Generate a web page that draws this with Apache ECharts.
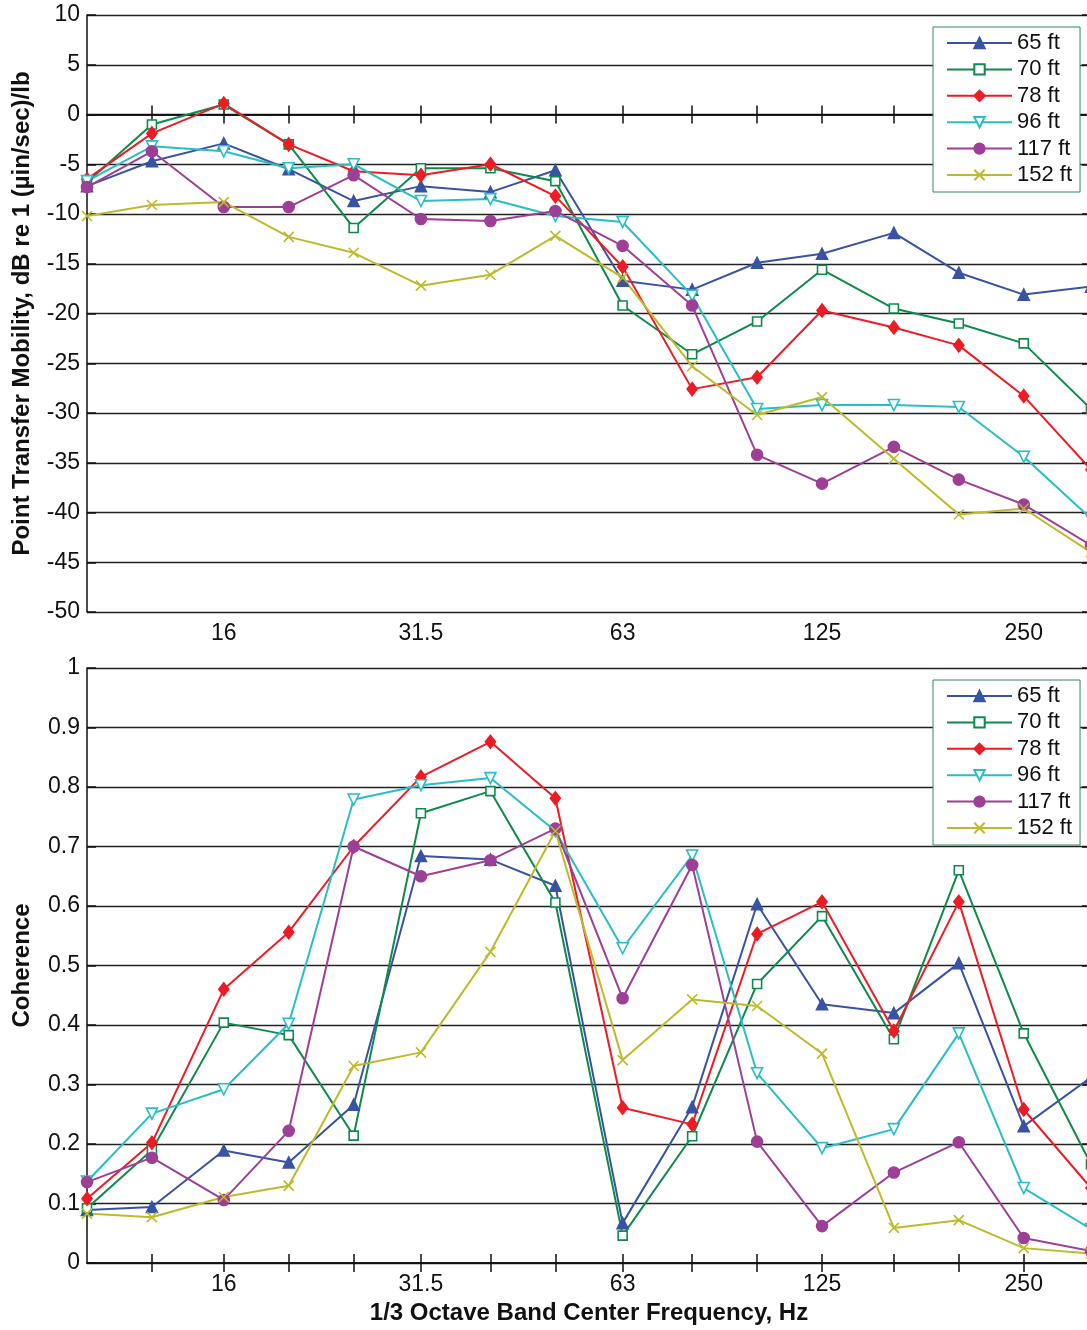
<!DOCTYPE html>
<html>
<head>
<meta charset="utf-8">
<title>Point transfer mobility and coherence</title>
<script src="https://cdn.jsdelivr.net/npm/echarts@6/dist/echarts.min.js"></script>
<style>
  html, body { margin: 0; padding: 0; background: #fff; }
  #chart { width: 1087px; height: 1330px; }
</style>
</head>
<body>
<div id="chart"></div>
<script>
// 1/3 octave band centres, Hz
const freqs = [10, 12.5, 16, 20, 25, 31.5, 40, 50, 63, 80, 100, 125, 160, 200, 250, 315]
const tickFreqs = [12.5, 16, 20, 25, 31.5, 40, 50, 63, 80, 100, 125, 160, 200, 250]
const labelFreqs = [16, 31.5, 63, 125, 250]
const names = ['65 ft', '70 ft', '78 ft', '96 ft', '117 ft', '152 ft']

// point transfer mobility, dB re 1 (µin/sec)/lb
const mob65 = [-7.2, -4.7, -2.9, -5.5, -8.7, -7.2, -7.8, -5.6, -16.7, -17.6, -14.9, -14.0, -11.9, -15.9, -18.1, -17.3]
const mob70 = [-6.8, -1.0, 1.0, -3.0, -11.4, -5.4, -5.4, -6.7, -19.2, -24.1, -20.8, -15.6, -19.5, -21.0, -23.0, -29.6]
const mob78 = [-6.5, -1.9, 1.1, -3.0, -5.7, -6.1, -5.0, -8.2, -15.3, -27.6, -26.4, -19.7, -21.4, -23.2, -28.3, -35.7]
const mob96 = [-6.7, -3.2, -3.7, -5.4, -5.0, -8.7, -8.5, -10.2, -10.8, -18.2, -29.6, -29.2, -29.2, -29.4, -34.4, -40.6]
const mob117 = [-7.3, -3.7, -9.3, -9.3, -6.1, -10.5, -10.7, -9.7, -13.2, -19.2, -34.2, -37.1, -33.4, -36.7, -39.2, -43.3]
const mob152 = [-10.2, -9.1, -8.8, -12.3, -13.9, -17.2, -16.1, -12.2, -16.4, -25.3, -30.2, -28.4, -34.6, -40.2, -39.6, -44.0]

// coherence
const coh65 = [0.089, 0.094, 0.189, 0.169, 0.266, 0.684, 0.678, 0.634, 0.067, 0.262, 0.603, 0.435, 0.420, 0.504, 0.230, 0.312]
const coh70 = [0.092, 0.190, 0.404, 0.383, 0.214, 0.756, 0.793, 0.606, 0.046, 0.213, 0.469, 0.583, 0.376, 0.660, 0.386, 0.166]
const coh78 = [0.108, 0.202, 0.460, 0.556, 0.700, 0.817, 0.876, 0.781, 0.261, 0.233, 0.553, 0.607, 0.390, 0.607, 0.258, 0.126]
const coh96 = [0.137, 0.251, 0.292, 0.402, 0.779, 0.803, 0.815, 0.726, 0.529, 0.685, 0.319, 0.193, 0.225, 0.386, 0.126, 0.057]
const coh117 = [0.136, 0.177, 0.106, 0.222, 0.700, 0.650, 0.677, 0.730, 0.445, 0.669, 0.204, 0.062, 0.152, 0.203, 0.042, 0.020]
const coh152 = [0.083, 0.077, 0.111, 0.130, 0.331, 0.354, 0.523, 0.726, 0.341, 0.443, 0.432, 0.352, 0.059, 0.072, 0.025, 0.016]

const FONT = 'Liberation Sans, Arial, Helvetica, sans-serif'
const FS = 23      // tick labels
const FS_NAME = 24 // axis titles
const FS_LEG = 22  // legend

// marker style per series
const xPath = 'path://M0,0L10,10M10,0L0,10'
const styles = [
  { color: '#3953a4', symbol: 'triangle', size: 11, fill: '#3953a4' },
  { color: '#0e8a4c', symbol: 'rect', size: 9, fill: '#fff' },
  { color: '#ed1c24', symbol: 'diamond', size: [10, 13], fill: '#ed1c24' },
  { color: '#26bfc3', symbol: 'triangle', size: 11, fill: '#fff', rotate: 180 },
  { color: '#9e3f97', symbol: 'circle', size: 11, fill: '#9e3f97' },
  { color: '#bdbb2b', symbol: xPath, size: 10, fill: '#bdbb2b' }
]

function makeSeries(arrs, gridIdx) {
  return arrs.map((vals, i) => {
    const s = styles[i]
    return {
      name: names[i],
      type: 'line',
      xAxisIndex: gridIdx * 2,
      yAxisIndex: gridIdx * 2,
      data: freqs.map((f, k) => [f, vals[k]]),
      symbol: s.symbol,
      symbolSize: s.size,
      symbolRotate: s.rotate || 0,
      lineStyle: { color: s.color, width: 2 },
      itemStyle: { color: s.fill, borderColor: s.color, borderWidth: 1.6 },
      emphasis: { disabled: true },
      animation: false
    }
  })
}

function xAxes(gridIdx, withName) {
  const base = {
    gridIndex: gridIdx,
    type: 'log',
    logBase: 10,
    min: 10,
    max: 315,
    splitLine: { show: false },
    minorTick: { show: false },
    axisLine: { lineStyle: { color: '#111', width: 1.5 } },
    axisTick: { inside: true, length: 9, customValues: tickFreqs, lineStyle: { color: '#111', width: 1.5 } }
  }
  const bottom = Object.assign({}, base, {
    position: 'bottom',
    axisLabel: {
      customValues: labelFreqs,
      margin: 10,
      fontFamily: FONT,
      fontSize: FS,
      color: '#111',
      formatter: v => String(+(+v).toPrecision(3))
    }
  })
  if (withName) {
    Object.assign(bottom, {
      name: '1/3 Octave Band Center Frequency, Hz',
      nameLocation: 'middle',
      nameGap: 38,
      nameTextStyle: { fontFamily: FONT, fontSize: FS_NAME, fontWeight: 'bold', color: '#111' }
    })
  }
  const top = Object.assign({}, base, { position: 'top', axisLabel: { show: false } })
  return [bottom, top]
}

function yAxes(gridIdx, min, max, step, name) {
  const left = {
    gridIndex: gridIdx,
    type: 'value',
    position: 'left',
    min: min,
    max: max,
    interval: step,
    name: name,
    nameLocation: 'middle',
    nameGap: 53,
    nameTextStyle: { fontFamily: FONT, fontSize: FS_NAME, fontWeight: 'bold', color: '#111' },
    axisLine: { show: true, lineStyle: { color: '#111', width: 1.5 } },
    axisTick: { show: true, inside: true, length: 9, lineStyle: { color: '#111', width: 1.5 } },
    axisLabel: { margin: 7, fontFamily: FONT, fontSize: FS, color: '#111' },
    splitLine: { show: true, lineStyle: { color: '#222', width: 1.3 } }
  }
  const right = {
    gridIndex: gridIdx,
    type: 'value',
    position: 'right',
    min: min,
    max: max,
    interval: step,
    axisLine: { show: true, lineStyle: { color: '#111', width: 1.5 } },
    axisTick: { show: true, inside: true, length: 9, lineStyle: { color: '#111', width: 1.5 } },
    axisLabel: { show: false },
    splitLine: { show: false }
  }
  return [left, right]
}

function legendAt(top) {
  return {
    orient: 'vertical',
    left: 933,
    top: top,
    data: names,
    itemWidth: 65,
    itemHeight: 13,
    itemGap: 4.4,
    padding: [5, 8, 6, 13],
    backgroundColor: '#fff',
    borderColor: '#2f8a5c',
    borderWidth: 1,
    selectedMode: false,
    textStyle: { fontFamily: FONT, fontSize: FS_LEG, color: '#111' }
  }
}

const chart = echarts.init(document.getElementById('chart'), null, { renderer: 'canvas' })
chart.setOption({
  backgroundColor: '#fff',
  animation: false,
  // plot box runs a few px past the right edge of the page, as in the original,
  // so the grid must not be squeezed back inside the container
  grid: [
    { left: 87, width: 1004, top: 15, height: 597, outerBoundsMode: 'none' },
    { left: 87, width: 1004, top: 668, height: 595, outerBoundsMode: 'none' }
  ],
  legend: [legendAt(27), legendAt(680)],
  xAxis: xAxes(0, false).concat(xAxes(1, true)),
  yAxis: yAxes(0, -50, 10, 5, 'Point Transfer Mobility, dB re 1 (µin/sec)/lb')
    .concat(yAxes(1, 0, 1, 0.1, 'Coherence')),
  series: makeSeries([mob65, mob70, mob78, mob96, mob117, mob152], 0)
    .concat(makeSeries([coh65, coh70, coh78, coh96, coh117, coh152], 1))
})
</script>
</body>
</html>
